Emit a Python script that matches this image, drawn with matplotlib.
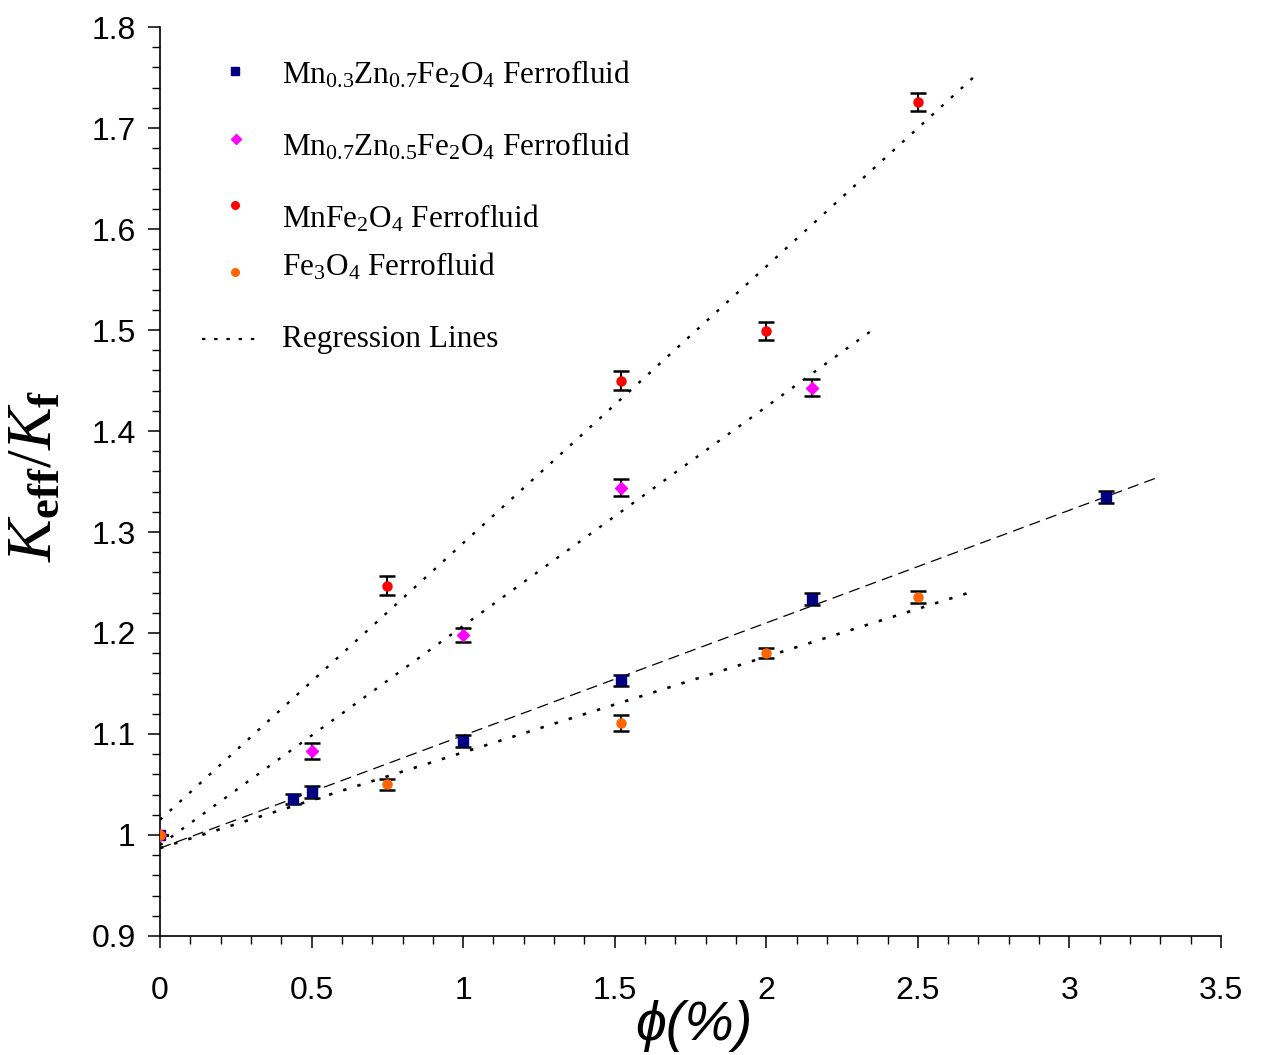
import matplotlib
matplotlib.use("Agg")
import matplotlib.pyplot as plt
from matplotlib.lines import Line2D
from matplotlib.ticker import MultipleLocator

plt.rcParams['mathtext.fontset'] = 'custom'
plt.rcParams['mathtext.rm'] = 'Liberation Serif'
plt.rcParams['mathtext.it'] = 'Liberation Serif:italic'
plt.rcParams['mathtext.bf'] = 'Liberation Serif:bold'

# Volume fraction (%) and relative thermal conductivity for each ferrofluid
phi_mnzn37 = [0.0, 0.44, 0.50, 1.00, 1.52, 2.15, 3.12]
k_mnzn37 = [1.000, 1.036, 1.043, 1.093, 1.153, 1.234, 1.335]
err_mnzn37 = [0.0, 0.005, 0.006, 0.006, 0.005, 0.006, 0.006]

phi_mnzn75 = [0.0, 0.50, 1.00, 1.52, 2.15]
k_mnzn75 = [1.000, 1.083, 1.198, 1.344, 1.443]
err_mnzn75 = [0.0, 0.008, 0.007, 0.008, 0.008]

phi_mnfe = [0.0, 0.75, 1.52, 2.00, 2.50]
k_mnfe = [1.000, 1.247, 1.450, 1.499, 1.726]
err_mnfe = [0.0, 0.009, 0.009, 0.009, 0.009]

phi_fe3o4 = [0.0, 0.75, 1.52, 2.00, 2.50]
k_fe3o4 = [1.000, 1.050, 1.111, 1.180, 1.236]
err_fe3o4 = [0.0, 0.005, 0.008, 0.005, 0.006]

# Regression line end points (phi, K_eff/K_f)
reg_mnzn37_x = [0.0, 3.30]
reg_mnzn37_y = [0.987, 1.355]
reg_mnzn75_x = [0.0, 2.35]
reg_mnzn75_y = [0.990, 1.500]
reg_mnfe_x = [0.0, 2.69]
reg_mnfe_y = [1.015, 1.752]
reg_fe3o4_x = [0.0, 2.68]
reg_fe3o4_y = [0.987, 1.241]

x_ticks = [0, 0.5, 1, 1.5, 2, 2.5, 3, 3.5]
x_tick_labels = ['0', '0.5', '1', '1.5', '2', '2.5', '3', '3.5']
y_ticks = [0.9, 1.0, 1.1, 1.2, 1.3, 1.4, 1.5, 1.6, 1.7, 1.8]
y_tick_labels = ['0.9', '1', '1.1', '1.2', '1.3', '1.4', '1.5', '1.6', '1.7', '1.8']

labels = [r'Mn$_{0.3}$Zn$_{0.7}$Fe$_2$O$_4$ Ferrofluid',
          r'Mn$_{0.7}$Zn$_{0.5}$Fe$_2$O$_4$ Ferrofluid',
          r'MnFe$_2$O$_4$ Ferrofluid',
          r'Fe$_3$O$_4$ Ferrofluid',
          'Regression Lines']

NAVY = '#000080'
MAGENTA = '#ff00ff'
RED = '#ff0000'
ORANGE = '#ff6600'

fig = plt.figure(figsize=(12.67, 10.55), dpi=100)
ax = fig.add_axes([0.1263, 0.1128, 0.8374, 0.8616])

# regression lines
ax.plot(reg_mnfe_x, reg_mnfe_y, color='black', lw=1.7, ls=(0, (1.3, 4.3)), zorder=2)
ax.plot(reg_mnzn75_x, reg_mnzn75_y, color='black', lw=1.7, ls=(0, (1.3, 4.3)), zorder=2)
ax.plot(reg_mnzn37_x, reg_mnzn37_y, color='black', lw=0.9, ls=(0, (9, 5)), zorder=2)
ax.plot(reg_fe3o4_x, reg_fe3o4_y, color='black', lw=1.9, ls=(0, (1.3, 4.3)), zorder=2)

eb = dict(ecolor='black', elinewidth=1.5, capsize=6, capthick=1.8, ls='none', zorder=3)
ax.errorbar(phi_mnzn37, k_mnzn37, yerr=err_mnzn37, fmt='s', ms=6.5, color=NAVY, **eb)
ax.errorbar(phi_mnzn75, k_mnzn75, yerr=err_mnzn75, fmt='D', ms=6, color=MAGENTA, **eb)
ax.errorbar(phi_mnfe, k_mnfe, yerr=err_mnfe, fmt='o', ms=6.5, color=RED, **eb)
ax.errorbar(phi_fe3o4, k_fe3o4, yerr=err_fe3o4, fmt='o', ms=6.5, color=ORANGE, **eb)

ax.set_xlim(0, 3.5)
ax.set_ylim(0.9, 1.8)
ax.set_xticks(x_ticks)
ax.set_xticklabels(x_tick_labels)
ax.set_yticks(y_ticks)
ax.set_yticklabels(y_tick_labels)
ax.xaxis.set_minor_locator(MultipleLocator(0.1))
ax.yaxis.set_minor_locator(MultipleLocator(0.02))
for lab in ax.get_xticklabels() + ax.get_yticklabels():
    lab.set_fontfamily('Liberation Sans')
    lab.set_fontsize(23)
ax.tick_params(axis='both', which='major', direction='out', length=8.5, width=1.1, color='black')
ax.tick_params(axis='both', which='minor', direction='out', length=5.5, width=1.0, color='black')
ax.tick_params(axis='x', which='major', pad=20)
ax.tick_params(axis='y', which='major', pad=9)
for side in ('top', 'right'):
    ax.spines[side].set_visible(False)
for side in ('left', 'bottom'):
    ax.spines[side].set_linewidth(1.2)

# axis titles
ylab = r'$K_{\mathbf{eff}}/K_{\mathbf{f}}$'
fig.text(33 / 1267, 1 - 476 / 1055, ylab, rotation=90, fontsize=46,
         ha='center', va='center')
fig.text(694 / 1267, 1 - 1026 / 1055, 'ϕ(%)', fontsize=40, style='italic',
         family=['Liberation Sans', 'DejaVu Sans'], ha='center', va='center')

# legend drawn by hand
marker_specs = [('s', NAVY, 5.5), ('D', MAGENTA, 5), ('o', RED, 5.5), ('o', ORANGE, 5.5)]
marker_pos = [(235, 71), (236, 139), (235, 205), (235, 272)]
text_y = [75, 147, 219, 267, 339]
for (mk, col, ms), (mx, my) in zip(marker_specs, marker_pos):
    fig.add_artist(Line2D([mx / 1267], [1 - my / 1055], marker=mk, color=col, ms=ms,
                          ls='none', transform=fig.transFigure))
fig.add_artist(Line2D([202 / 1267, 262 / 1267], [1 - 339 / 1055, 1 - 339 / 1055],
                      color='black', lw=1.6, ls=(0, (1.5, 4)), transform=fig.transFigure))
for lab, ty in zip(labels, text_y):
    fig.text(282 / 1267, 1 - ty / 1055, lab, fontsize=22.5, family='Liberation Serif',
             ha='left', va='center')

fig.savefig('out.png', dpi=100)
